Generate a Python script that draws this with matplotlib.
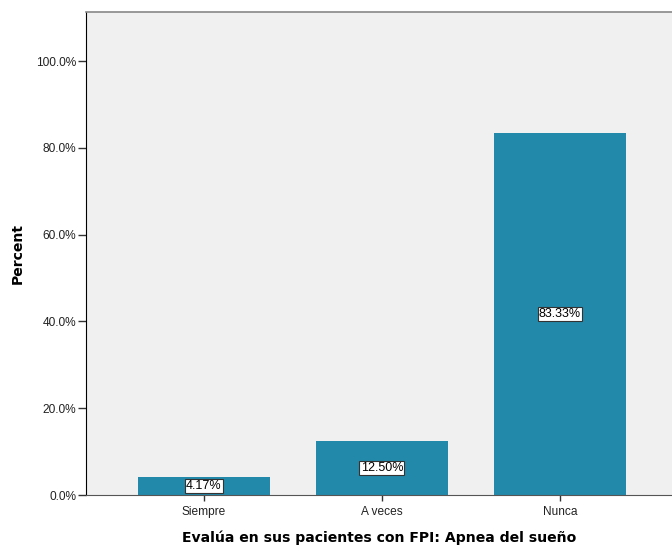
import matplotlib.pyplot as plt
from matplotlib.ticker import FuncFormatter

categories = ["Siempre", "A veces", "Nunca"]
percents = [4.17, 12.50, 83.33]
y_ticks = [0, 20, 40, 60, 80, 100]

plt.rcParams["font.family"] = ["Liberation Sans", "DejaVu Sans"]

fig = plt.figure(figsize=(6.72, 5.45), dpi=100)
ax = fig.add_axes([0.128, 0.0917, 0.872, 0.8863])
ax.set_facecolor("#f0f0f0")

x = range(len(categories))
bars = ax.bar(x, percents, width=0.742, color="#2389ab", edgecolor="none", zorder=2)

for rect, val in zip(bars, percents):
    ax.text(rect.get_x() + rect.get_width() / 2, val / 2, f"{val:.2f}%",
            ha="center", va="center", fontsize=9, color="black", zorder=3,
            bbox=dict(boxstyle="square,pad=0.1", facecolor="white",
                      edgecolor="#333333", linewidth=0.8))

ax.set_xlim(-0.663, 2.63)
ax.set_ylim(0, 111.3)
ax.set_yticks(y_ticks)
ax.yaxis.set_major_formatter(FuncFormatter(lambda v, _: f"{v:.1f}%"))
ax.set_xticks(list(x))
ax.set_xticklabels(categories)
ax.tick_params(axis="y", labelsize=8.6, length=6, width=1, color="#333333",
               labelcolor="#222222", pad=1)
ax.tick_params(axis="x", labelsize=8.6, length=4, width=1, color="#333333",
               labelcolor="#222222", pad=4)

ax.spines["right"].set_visible(False)
ax.spines["top"].set_color("#888888")
ax.spines["top"].set_linewidth(1.2)
ax.spines["left"].set_color("black")
ax.spines["bottom"].set_color("#555555")

ax.set_ylabel("Percent", fontsize=10.1, fontweight="bold", labelpad=8,
              family="DejaVu Sans")
ax.set_xlabel("Evalúa en sus pacientes con FPI: Apnea del sueño",
              fontsize=10.1, fontweight="bold", labelpad=9, family="DejaVu Sans")

fig.savefig("out.png", dpi=100)
